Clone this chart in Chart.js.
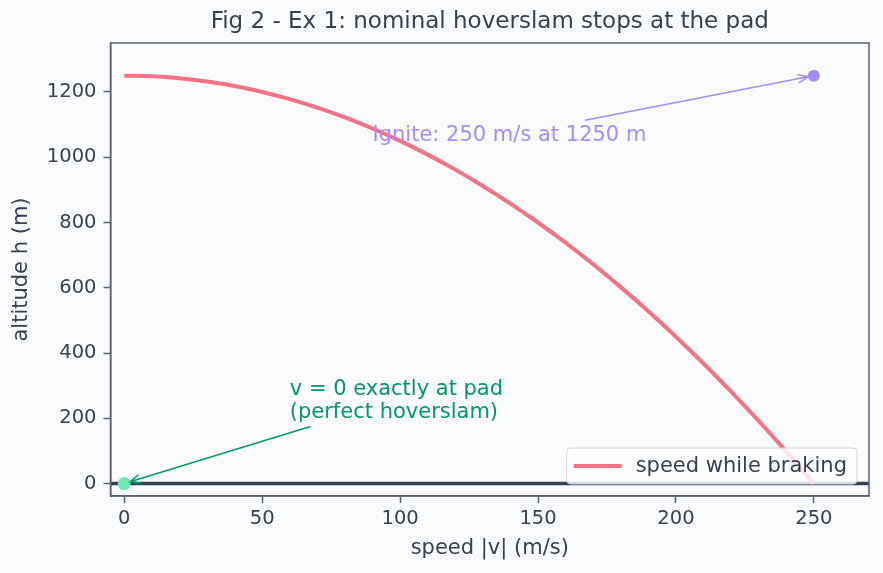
<!DOCTYPE html>
<html>
<head>
<meta charset="utf-8">
<script src="https://cdn.jsdelivr.net/npm/chart.js@4.4.1/dist/chart.umd.min.js"></script>
<style>
  html, body { margin: 0; padding: 0; background: #fafbfd; }
  #wrap { width: 883px; height: 573px; }
</style>
</head>
<body>
<div id="wrap"><canvas id="hoverslam_chart" width="883" height="573"></canvas></div>
<script>
// speed |v| (m/s) vs altitude h (m)
var speeds = [0, 10, 20, 30, 40, 50, 60, 70, 80, 90, 100, 110, 120, 130, 140, 150, 160, 170, 180, 190, 200, 210, 220, 230, 240, 250];
var altitudes = [1250, 1248, 1242, 1232, 1218, 1200, 1178, 1152, 1122, 1088, 1050, 1008, 962, 912, 858, 800, 738, 672, 602, 528, 450, 368, 282, 192, 98, 0];
var ignitePoint = [{x: 250, y: 1250}];
var padPoint = [{x: 0, y: 0}];
var xTicks = [0, 50, 100, 150, 200, 250];
var yTicks = [0, 200, 400, 600, 800, 1000, 1200];

var FONT = "DejaVu Sans";
var TEXT = "#374151";
var AXIS = "#5a6070";

// annotation anchors (data coords)
var igniteNote = {text: ["Ignite: 250 m/s at 1250 m"], x: 90, y: 1050, from: {x: 167, y: 1113}, to: ignitePoint[0], color: "#a78bfa"};
var padNote = {text: ["v = 0 exactly at pad", "(perfect hoverslam)"], x: 60, y: 200, from: {x: 67.5, y: 175}, to: padPoint[0], color: "#059669"};

function arrow(ctx, x1, y1, x2, y2, color) {
  var ang = Math.atan2(y2 - y1, x2 - x1);
  // shrink toward the marker
  x2 -= Math.cos(ang) * 6;
  y2 -= Math.sin(ang) * 6;
  ctx.save();
  ctx.strokeStyle = color;
  ctx.lineWidth = 1.5;
  ctx.beginPath();
  ctx.moveTo(x1, y1);
  ctx.lineTo(x2, y2);
  ctx.moveTo(x2 - 11 * Math.cos(ang - 0.4), y2 - 11 * Math.sin(ang - 0.4));
  ctx.lineTo(x2, y2);
  ctx.lineTo(x2 - 11 * Math.cos(ang + 0.4), y2 - 11 * Math.sin(ang + 0.4));
  ctx.stroke();
  ctx.restore();
}

var extras = {
  id: "extras",
  beforeDatasetsDraw: function (chart) {
    var ctx = chart.ctx, a = chart.chartArea, y0 = chart.scales.y.getPixelForValue(0);
    ctx.save();
    ctx.strokeStyle = "#334155";
    ctx.lineWidth = 3.5;
    ctx.beginPath();
    ctx.moveTo(a.left, y0);
    ctx.lineTo(a.right, y0);
    ctx.stroke();
    ctx.restore();
  },
  afterDatasetsDraw: function (chart) {
    var ctx = chart.ctx, a = chart.chartArea, sx = chart.scales.x, sy = chart.scales.y;
    // frame
    ctx.save();
    ctx.strokeStyle = AXIS;
    ctx.lineWidth = 1.5;
    ctx.strokeRect(a.left, a.top, a.right - a.left, a.bottom - a.top);
    ctx.restore();

    [igniteNote, padNote].forEach(function (n) {
      arrow(ctx, sx.getPixelForValue(n.from.x), sy.getPixelForValue(n.from.y),
        sx.getPixelForValue(n.to.x), sy.getPixelForValue(n.to.y), n.color);
      ctx.save();
      ctx.fillStyle = n.color;
      ctx.font = "21px '" + FONT + "'";
      ctx.textBaseline = "alphabetic";
      ctx.textAlign = "left";
      var bx = sx.getPixelForValue(n.x), by = sy.getPixelForValue(n.y);
      for (var i = 0; i < n.text.length; i++) {
        ctx.fillText(n.text[i], bx, by - (n.text.length - 1 - i) * 23);
      }
      ctx.restore();
    });

    // legend, lower right
    var ds = chart.data.datasets[0];
    ctx.save();
    ctx.font = "21px '" + FONT + "'";
    var tw = ctx.measureText(ds.label).width;
    var w = tw + 79, h = 36;
    var lx = a.right - 12 - w, ly = a.bottom - 12 - h;
    ctx.beginPath();
    ctx.roundRect(lx, ly, w, h, 4);
    ctx.fillStyle = "rgba(255,255,255,0.8)";
    ctx.fill();
    ctx.strokeStyle = "#cfd2d8";
    ctx.lineWidth = 1;
    ctx.stroke();
    ctx.strokeStyle = ds.borderColor;
    ctx.lineWidth = 4;
    ctx.beginPath();
    ctx.moveTo(lx + 7, ly + h / 2);
    ctx.lineTo(lx + 55, ly + h / 2);
    ctx.stroke();
    ctx.fillStyle = TEXT;
    ctx.textBaseline = "middle";
    ctx.fillText(ds.label, lx + 69, ly + h / 2 + 1);
    ctx.restore();
  }
};

function plainTick(v) { return String(v); }

var ctx = document.getElementById("hoverslam_chart");
var myChart = new Chart(ctx, {
  type: "line",
  plugins: [extras],
  data: {
    datasets: [{
      label: "speed while braking",
      data: speeds.map(function (v, i) { return {x: v, y: altitudes[i]}; }),
      borderColor: "#f47286",
      borderWidth: 4,
      pointRadius: 0,
      cubicInterpolationMode: "monotone",
      fill: false
    }, {
      label: "ignite",
      type: "scatter",
      data: ignitePoint,
      backgroundColor: "#a78bfa",
      borderWidth: 0,
      pointRadius: 6
    }, {
      label: "pad",
      type: "scatter",
      data: padPoint,
      backgroundColor: "#6ee7b7",
      borderWidth: 0,
      pointRadius: 6.5
    }]
  },
  options: {
    responsive: false,
    animation: false,
    devicePixelRatio: 1,
    layout: { padding: { left: 0, right: 14, top: 0, bottom: 0 } },
    plugins: {
      legend: { display: false },
      tooltip: { enabled: false },
      title: {
        display: true,
        fullSize: false,
        text: "Fig 2 - Ex 1: nominal hoverslam stops at the pad",
        color: TEXT,
        font: { family: FONT, size: 23, weight: "normal" },
        padding: { top: 8, bottom: 7.4 }
      }
    },
    scales: {
      x: {
        type: "linear",
        min: -5,
        max: 270,
        afterFit: function (s) { s.height = 77; },
        afterBuildTicks: function (s) { s.ticks = xTicks.map(function (v) { return {value: v}; }); },
        grid: { display: true, drawOnChartArea: false, drawTicks: true, tickLength: 7, tickColor: AXIS, tickWidth: 1.5 },
        border: { display: true, color: AXIS, width: 1.5 },
        ticks: { color: TEXT, font: { family: FONT, size: 19.5 }, padding: 4, maxRotation: 0, callback: plainTick },
        title: { display: true, text: "speed |v| (m/s)", color: TEXT, font: { family: FONT, size: 21 }, padding: { top: 0, bottom: 12 } }
      },
      y: {
        type: "linear",
        min: -38,
        max: 1350,
        afterFit: function (s) { s.width = 110.5; },
        afterBuildTicks: function (s) { s.ticks = yTicks.map(function (v) { return {value: v}; }); },
        grid: { display: true, drawOnChartArea: false, drawTicks: true, tickLength: 7, tickColor: AXIS, tickWidth: 1.5 },
        border: { display: true, color: AXIS, width: 1.5 },
        ticks: { color: TEXT, font: { family: FONT, size: 19.5 }, padding: 7, callback: plainTick },
        title: { display: true, text: "altitude h (m)", color: TEXT, font: { family: FONT, size: 21 }, padding: { top: 9, bottom: 0 } }
      }
    }
  }
});
</script>
</body>
</html>
